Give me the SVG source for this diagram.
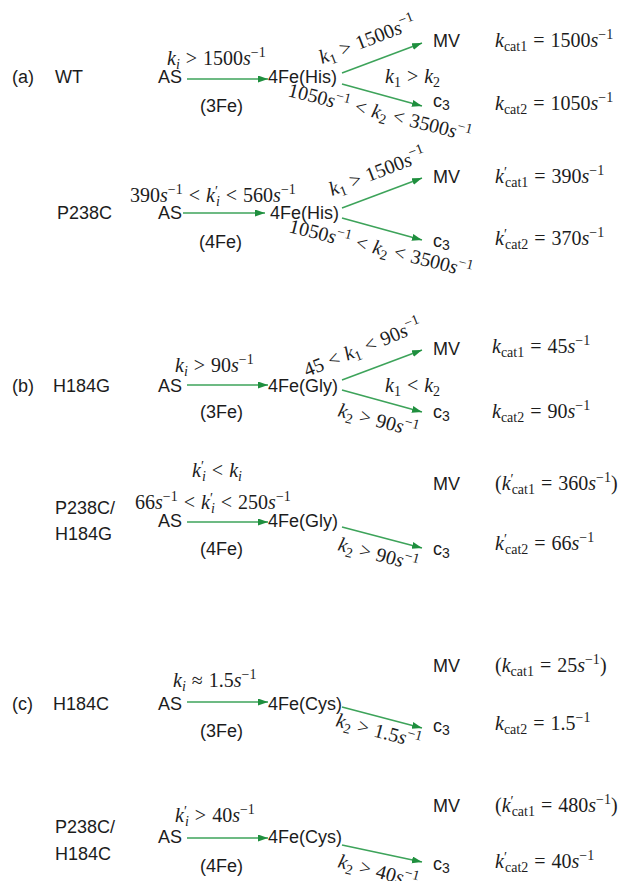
<svg xmlns="http://www.w3.org/2000/svg" width="626" height="881" viewBox="0 0 626 881">
<style>
.s{font-family:"Liberation Sans",Arial,sans-serif;font-size:18px;fill:#1c1c1c}
.m{font-family:"Liberation Serif","Times New Roman",serif;font-size:20px;fill:#1c1c1c}
.i{font-style:italic}
.sb{font-size:14px}
.c3{font-size:14px}
.e{stroke:#3da35a;stroke-width:1.6;fill:none;marker-end:url(#ah)}
</style>
<defs>
<marker id="ah" markerUnits="userSpaceOnUse" markerWidth="11" markerHeight="8" refX="10" refY="3.5" orient="auto">
<path d="M0,0 L10,3.5 L0,7 z" fill="#1f8f3e"/>
</marker>
</defs>
<rect width="626" height="881" fill="#fff"/>

<g id="connectors">
<line class="e" x1="187" y1="79" x2="268" y2="79"/>
<line class="e" x1="342" y1="73" x2="422" y2="43"/>
<line class="e" x1="342" y1="84" x2="422" y2="106"/>
<line class="e" x1="183" y1="213" x2="265" y2="213"/>
<line class="e" x1="342" y1="208" x2="422" y2="178"/>
<line class="e" x1="342" y1="218" x2="422" y2="240"/>
<line class="e" x1="187" y1="385" x2="268" y2="385"/>
<line class="e" x1="342" y1="380" x2="422" y2="350"/>
<line class="e" x1="342" y1="390" x2="422" y2="412"/>
<line class="e" x1="187" y1="522" x2="268" y2="522"/>
<line class="e" x1="342" y1="527" x2="422" y2="548"/>
<line class="e" x1="187" y1="702" x2="268" y2="702"/>
<line class="e" x1="342" y1="707" x2="422" y2="728"/>
<line class="e" x1="187" y1="838" x2="268" y2="838"/>
<line class="e" x1="342" y1="845" x2="422" y2="862"/>
</g>

<!-- (a) WT -->
<g id="wt-label"><text class="s" x="12" y="83">(a)</text><text class="s" x="55" y="83">WT</text></g>
<g id="wt-as"><text class="s" x="158" y="83">AS</text><text class="s" x="200" y="112">(3Fe)</text></g>
<g id="wt-4fe"><text class="s" x="268" y="83">4Fe(His)</text></g>
<g id="wt-mv"><text class="s" x="433" y="47">MV</text></g>
<g id="wt-c3"><text class="s" x="433" y="107">c<tspan class="c3" dy="3">3</tspan></text></g>
<g id="wt-labels">
<text class="m" x="167" y="65"><tspan class="i">k</tspan><tspan class="i sb" dy="4">i</tspan><tspan dy="-4" dx="6">&gt;</tspan><tspan dx="6">1500</tspan><tspan class="i">s</tspan><tspan class="sb" dy="-8">−1</tspan></text>
<text class="m" transform="translate(322,64) rotate(-21)"><tspan class="i">k</tspan><tspan class="sb" dy="4">1</tspan><tspan dy="-4" dx="6">&gt;</tspan><tspan dx="6">1500</tspan><tspan class="i">s</tspan><tspan class="sb" dy="-8">−1</tspan></text>
<text class="m" transform="translate(287,96) rotate(14)"><tspan>1050</tspan><tspan class="i">s</tspan><tspan class="sb" dy="-8">−1</tspan><tspan dy="8" dx="6">&lt;</tspan><tspan class="i" dx="6">k</tspan><tspan class="sb" dy="4">2</tspan><tspan dy="-4" dx="6">&lt;</tspan><tspan dx="6">3500</tspan><tspan class="i">s</tspan><tspan class="sb" dy="-8">−1</tspan></text>
<text class="m" x="385" y="83"><tspan class="i">k</tspan><tspan class="sb" dy="4">1</tspan><tspan dy="-4" dx="6">&gt;</tspan><tspan class="i" dx="6">k</tspan><tspan class="sb" dy="4">2</tspan></text>
<text class="m" x="495" y="47"><tspan class="i">k</tspan><tspan class="sb" dy="4">cat1</tspan><tspan dy="-4" dx="6">=</tspan><tspan dx="6">1500</tspan><tspan class="i">s</tspan><tspan class="sb" dy="-8">−1</tspan></text>
<text class="m" x="495" y="110"><tspan class="i">k</tspan><tspan class="sb" dy="4">cat2</tspan><tspan dy="-4" dx="6">=</tspan><tspan dx="6">1050</tspan><tspan class="i">s</tspan><tspan class="sb" dy="-8">−1</tspan></text>
</g>

<!-- P238C -->
<g id="p238c-label"><text class="s" x="57" y="219">P238C</text></g>
<g id="p238c-as"><text class="s" x="158" y="219">AS</text><text class="s" x="199" y="248">(4Fe)</text></g>
<g id="p238c-4fe"><text class="s" x="270" y="219">4Fe(His)</text></g>
<g id="p238c-mv"><text class="s" x="433" y="183">MV</text></g>
<g id="p238c-c3"><text class="s" x="433" y="247">c<tspan class="c3" dy="3">3</tspan></text></g>
<g id="p238c-labels">
<text class="m" x="130" y="202"><tspan>390</tspan><tspan class="i">s</tspan><tspan class="sb" dy="-8">−1</tspan><tspan dy="8" dx="6">&lt;</tspan><tspan class="i" dx="6">k</tspan><tspan class="sb" dy="-6">′</tspan><tspan class="i sb" dy="10" dx="-2">i</tspan><tspan dy="-4" dx="6">&lt;</tspan><tspan dx="6">560</tspan><tspan class="i">s</tspan><tspan class="sb" dy="-8">−1</tspan></text>
<text class="m" transform="translate(332,196) rotate(-21)"><tspan class="i">k</tspan><tspan class="sb" dy="4">1</tspan><tspan dy="-4" dx="6">&gt;</tspan><tspan dx="6">1500</tspan><tspan class="i">s</tspan><tspan class="sb" dy="-8">−1</tspan></text>
<text class="m" transform="translate(288,232) rotate(14)"><tspan>1050</tspan><tspan class="i">s</tspan><tspan class="sb" dy="-8">−1</tspan><tspan dy="8" dx="6">&lt;</tspan><tspan class="i" dx="6">k</tspan><tspan class="sb" dy="4">2</tspan><tspan dy="-4" dx="6">&lt;</tspan><tspan dx="6">3500</tspan><tspan class="i">s</tspan><tspan class="sb" dy="-8">−1</tspan></text>
<text class="m" x="495" y="183"><tspan class="i">k</tspan><tspan class="sb" dy="-6">′</tspan><tspan class="sb" dy="10" dx="-2">cat1</tspan><tspan dy="-4" dx="6">=</tspan><tspan dx="6">390</tspan><tspan class="i">s</tspan><tspan class="sb" dy="-8">−1</tspan></text>
<text class="m" x="495" y="245"><tspan class="i">k</tspan><tspan class="sb" dy="-6">′</tspan><tspan class="sb" dy="10" dx="-2">cat2</tspan><tspan dy="-4" dx="6">=</tspan><tspan dx="6">370</tspan><tspan class="i">s</tspan><tspan class="sb" dy="-8">−1</tspan></text>
</g>

<!-- (b) H184G -->
<g id="h184g-label"><text class="s" x="12" y="392">(b)</text><text class="s" x="53" y="392">H184G</text></g>
<g id="h184g-as"><text class="s" x="158" y="392">AS</text><text class="s" x="200" y="418">(3Fe)</text></g>
<g id="h184g-4fe"><text class="s" x="268" y="392">4Fe(Gly)</text></g>
<g id="h184g-mv"><text class="s" x="433" y="355">MV</text></g>
<g id="h184g-c3"><text class="s" x="433" y="418">c<tspan class="c3" dy="3">3</tspan></text></g>
<g id="h184g-labels">
<text class="m" x="175" y="372"><tspan class="i">k</tspan><tspan class="i sb" dy="4">i</tspan><tspan dy="-4" dx="6">&gt;</tspan><tspan dx="6">90</tspan><tspan class="i">s</tspan><tspan class="sb" dy="-8">−1</tspan></text>
<text class="m" transform="translate(307,377) rotate(-22)"><tspan>45</tspan><tspan dx="6">&lt;</tspan><tspan class="i" dx="6">k</tspan><tspan class="sb" dy="4">1</tspan><tspan dy="-4" dx="6">&lt;</tspan><tspan dx="6">90</tspan><tspan class="i">s</tspan><tspan class="sb" dy="-8">−1</tspan></text>
<text class="m" transform="translate(337,416) rotate(15)"><tspan class="i">k</tspan><tspan class="sb" dy="4">2</tspan><tspan dy="-4" dx="6">&gt;</tspan><tspan dx="6">90</tspan><tspan class="i">s</tspan><tspan class="sb" dy="-8">−1</tspan></text>
<text class="m" x="385" y="392"><tspan class="i">k</tspan><tspan class="sb" dy="4">1</tspan><tspan dy="-4" dx="6">&lt;</tspan><tspan class="i" dx="6">k</tspan><tspan class="sb" dy="4">2</tspan></text>
<text class="m" x="492" y="353"><tspan class="i">k</tspan><tspan class="sb" dy="4">cat1</tspan><tspan dy="-4" dx="6">=</tspan><tspan dx="6">45</tspan><tspan class="i">s</tspan><tspan class="sb" dy="-8">−1</tspan></text>
<text class="m" x="492" y="418"><tspan class="i">k</tspan><tspan class="sb" dy="4">cat2</tspan><tspan dy="-4" dx="6">=</tspan><tspan dx="6">90</tspan><tspan class="i">s</tspan><tspan class="sb" dy="-8">−1</tspan></text>
</g>

<!-- P238C/H184G -->
<g id="p238c-h184g-label"><text class="s" x="55" y="514">P238C/</text><text class="s" x="55" y="540">H184G</text></g>
<g id="p238c-h184g-as"><text class="s" x="158" y="527">AS</text><text class="s" x="200" y="555">(4Fe)</text></g>
<g id="p238c-h184g-4fe"><text class="s" x="268" y="527">4Fe(Gly)</text></g>
<g id="p238c-h184g-mv"><text class="s" x="433" y="490">MV</text></g>
<g id="p238c-h184g-c3"><text class="s" x="433" y="555">c<tspan class="c3" dy="3">3</tspan></text></g>
<g id="p238c-h184g-labels">
<text class="m" x="192" y="477"><tspan class="i">k</tspan><tspan class="sb" dy="-6">′</tspan><tspan class="i sb" dy="10" dx="-2">i</tspan><tspan dy="-4" dx="6">&lt;</tspan><tspan class="i" dx="6">k</tspan><tspan class="i sb" dy="4">i</tspan></text>
<text class="m" x="135" y="509"><tspan>66</tspan><tspan class="i">s</tspan><tspan class="sb" dy="-8">−1</tspan><tspan dy="8" dx="6">&lt;</tspan><tspan class="i" dx="6">k</tspan><tspan class="sb" dy="-6">′</tspan><tspan class="i sb" dy="10" dx="-2">i</tspan><tspan dy="-4" dx="6">&lt;</tspan><tspan dx="6">250</tspan><tspan class="i">s</tspan><tspan class="sb" dy="-8">−1</tspan></text>
<text class="m" transform="translate(337,550) rotate(15)"><tspan class="i">k</tspan><tspan class="sb" dy="4">2</tspan><tspan dy="-4" dx="6">&gt;</tspan><tspan dx="6">90</tspan><tspan class="i">s</tspan><tspan class="sb" dy="-8">−1</tspan></text>
<text class="m" x="495" y="490"><tspan>(</tspan><tspan class="i">k</tspan><tspan class="sb" dy="-6">′</tspan><tspan class="sb" dy="10" dx="-2">cat1</tspan><tspan dy="-4" dx="6">=</tspan><tspan dx="6">360</tspan><tspan class="i">s</tspan><tspan class="sb" dy="-8">−1</tspan><tspan dy="8">)</tspan></text>
<text class="m" x="495" y="550"><tspan class="i">k</tspan><tspan class="sb" dy="-6">′</tspan><tspan class="sb" dy="10" dx="-2">cat2</tspan><tspan dy="-4" dx="6">=</tspan><tspan dx="6">66</tspan><tspan class="i">s</tspan><tspan class="sb" dy="-8">−1</tspan></text>
</g>

<!-- (c) H184C -->
<g id="h184c-label"><text class="s" x="12" y="710">(c)</text><text class="s" x="53" y="710">H184C</text></g>
<g id="h184c-as"><text class="s" x="158" y="710">AS</text><text class="s" x="200" y="737">(3Fe)</text></g>
<g id="h184c-4fe"><text class="s" x="268" y="710">4Fe(Cys)</text></g>
<g id="h184c-mv"><text class="s" x="433" y="672">MV</text></g>
<g id="h184c-c3"><text class="s" x="433" y="732">c<tspan class="c3" dy="3">3</tspan></text></g>
<g id="h184c-labels">
<text class="m" x="173" y="687"><tspan class="i">k</tspan><tspan class="i sb" dy="4">i</tspan><tspan dy="-4" dx="6">≈</tspan><tspan dx="6">1.5</tspan><tspan class="i">s</tspan><tspan class="sb" dy="-8">−1</tspan></text>
<text class="m" transform="translate(335,726) rotate(15)"><tspan class="i">k</tspan><tspan class="sb" dy="4">2</tspan><tspan dy="-4" dx="6">&gt;</tspan><tspan dx="6">1.5</tspan><tspan class="i">s</tspan><tspan class="sb" dy="-8">−1</tspan></text>
<text class="m" x="495" y="672"><tspan>(</tspan><tspan class="i">k</tspan><tspan class="sb" dy="4">cat1</tspan><tspan dy="-4" dx="6">=</tspan><tspan dx="6">25</tspan><tspan class="i">s</tspan><tspan class="sb" dy="-8">−1</tspan><tspan dy="8">)</tspan></text>
<text class="m" x="495" y="730"><tspan class="i">k</tspan><tspan class="sb" dy="4">cat2</tspan><tspan dy="-4" dx="6">=</tspan><tspan dx="6">1.5</tspan><tspan class="sb" dy="-8">−1</tspan></text>
</g>

<!-- P238C/H184C -->
<g id="p238c-h184c-label"><text class="s" x="55" y="833">P238C/</text><text class="s" x="55" y="860">H184C</text></g>
<g id="p238c-h184c-as"><text class="s" x="158" y="843">AS</text><text class="s" x="200" y="872">(4Fe)</text></g>
<g id="p238c-h184c-4fe"><text class="s" x="268" y="843">4Fe(Cys)</text></g>
<g id="p238c-h184c-mv"><text class="s" x="433" y="812">MV</text></g>
<g id="p238c-h184c-c3"><text class="s" x="433" y="870">c<tspan class="c3" dy="3">3</tspan></text></g>
<g id="p238c-h184c-labels">
<text class="m" x="175" y="822"><tspan class="i">k</tspan><tspan class="sb" dy="-6">′</tspan><tspan class="i sb" dy="10" dx="-2">i</tspan><tspan dy="-4" dx="6">&gt;</tspan><tspan dx="6">40</tspan><tspan class="i">s</tspan><tspan class="sb" dy="-8">−1</tspan></text>
<text class="m" transform="translate(337,867) rotate(15)"><tspan class="i">k</tspan><tspan class="sb" dy="4">2</tspan><tspan dy="-4" dx="6">&gt;</tspan><tspan dx="6">40</tspan><tspan class="i">s</tspan><tspan class="sb" dy="-8">−1</tspan></text>
<text class="m" x="495" y="812"><tspan>(</tspan><tspan class="i">k</tspan><tspan class="sb" dy="-6">′</tspan><tspan class="sb" dy="10" dx="-2">cat1</tspan><tspan dy="-4" dx="6">=</tspan><tspan dx="6">480</tspan><tspan class="i">s</tspan><tspan class="sb" dy="-8">−1</tspan><tspan dy="8">)</tspan></text>
<text class="m" x="495" y="868"><tspan class="i">k</tspan><tspan class="sb" dy="-6">′</tspan><tspan class="sb" dy="10" dx="-2">cat2</tspan><tspan dy="-4" dx="6">=</tspan><tspan dx="6">40</tspan><tspan class="i">s</tspan><tspan class="sb" dy="-8">−1</tspan></text>
</g>
</svg>
